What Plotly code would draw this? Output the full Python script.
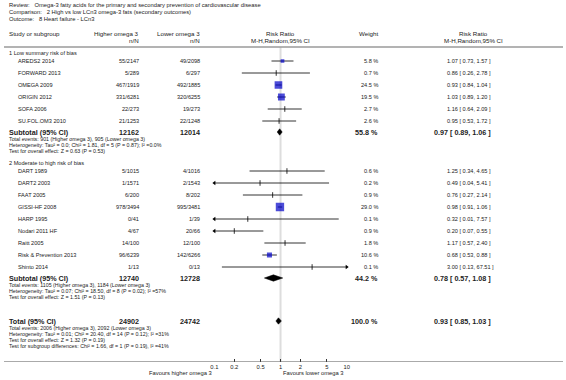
import plotly.graph_objects as go

W, H = 566, 380

review = "Review:   Omega-3 fatty acids for the primary and secondary prevention of cardiovascular disease"
comparison = "Comparison:   2 High vs low LCn3 omega-3 fats (secondary outcomes)"
outcome = "Outcome:   8 Heart failure - LCn3"

group_names = ["1 Low summary risk of bias", "2 Moderate to high risk of bias"]

g1_studies = ["AREDS2 2014", "FORWARD 2013", "OMEGA 2009", "ORIGIN 2012", "SOFA 2006", "SU.FOL.OM3 2010"]
g1_high = ["55/2147", "5/289", "467/1919", "331/6281", "22/273", "21/1253"]
g1_low = ["49/2098", "6/297", "492/1885", "320/6255", "19/273", "22/1248"]
g1_weight = [5.8, 0.7, 24.5, 19.5, 2.7, 2.6]
g1_rr = [1.07, 0.86, 0.93, 1.03, 1.16, 0.95]
g1_lo = [0.73, 0.26, 0.84, 0.89, 0.64, 0.53]
g1_hi = [1.57, 2.78, 1.04, 1.20, 2.09, 1.72]

g2_studies = ["DART 1989", "DART2 2003", "FAAT 2005", "GISSI-HF 2008", "HARP 1995",
              "Nodari 2011 HF", "Raitt 2005", "Risk & Prevention 2013", "Shinto 2014"]
g2_high = ["5/1015", "1/1571", "6/200", "978/3494", "0/41", "4/67", "14/100", "96/6239", "1/13"]
g2_low = ["4/1016", "2/1543", "8/202", "995/3481", "1/39", "20/66", "12/100", "142/6266", "0/13"]
g2_weight = [0.6, 0.2, 0.9, 29.0, 0.1, 0.9, 1.8, 10.6, 0.1]
g2_rr = [1.25, 0.49, 0.76, 0.98, 0.32, 0.20, 1.17, 0.68, 3.00]
g2_lo = [0.34, 0.04, 0.27, 0.91, 0.01, 0.07, 0.57, 0.53, 0.13]
g2_hi = [4.65, 5.41, 2.14, 1.06, 7.57, 0.55, 2.40, 0.88, 67.51]

sub_n_high = ["12162", "12740"]
sub_n_low = ["12014", "12728"]
sub_weight = [55.8, 44.2]
sub_rr = [0.97, 0.78]
sub_lo = [0.89, 0.57]
sub_hi = [1.06, 1.08]
sub_notes = [
    ["Total events: 901 (Higher omega 3), 905 (Lower omega 3)",
     "Heterogeneity: Tau\u00b2 = 0.0; Chi\u00b2 = 1.81, df = 5 (P = 0.87); I\u00b2 =0.0%",
     "Test for overall effect: Z = 0.63 (P = 0.53)"],
    ["Total events: 1105 (Higher omega 3), 1184 (Lower omega 3)",
     "Heterogeneity: Tau\u00b2 = 0.07; Chi\u00b2 = 18.50, df = 8 (P = 0.02); I\u00b2 =57%",
     "Test for overall effect: Z = 1.51 (P = 0.13)"],
]

tot_n_high = "24902"
tot_n_low = "24742"
tot_weight = 100.0
tot_rr, tot_lo, tot_hi = 0.93, 0.85, 1.03
tot_notes = [
    "Total events: 2006 (Higher omega 3), 2092 (Lower omega 3)",
    "Heterogeneity: Tau\u00b2 = 0.01; Chi\u00b2 = 20.40, df = 14 (P = 0.12); I\u00b2 =31%",
    "Test for overall effect: Z = 1.32 (P = 0.19)",
    "Test for subgroup differences: Chi\u00b2 = 1.66, df = 1 (P = 0.19), I\u00b2 =41%",
]

tick_vals = [0.1, 0.2, 0.5, 1, 2, 5, 10]
tick_text = ["0.1", "0.2", "0.5", "1", "2", "5", "10"]
x_min, x_max = 0.1, 10
favours_left = "Favours higher omega 3"
favours_right = "Favours lower omega 3"

# ---------------- layout constants (pixels) ----------------
FONT = "Liberation Sans, Arial, sans-serif"
TXT = "#222222"
X_LEFT = 5
X_STUDY = 14
X_HIGH = 137
X_LOW = 198
X_WEIGHT = 379
X_CI = 449
X_CI_B = 435
X_CI_C = 475
PLOT_L, PLOT_R = 213, 347
AXIS_Y = 362
FS = 5.6
FS_B = 7.2

annotations = []
shapes = []
traces = []


def txt(x, y, s, anchor="left", size=FS, bold=False, color=TXT):
    if bold:
        s = "<b>" + s + "</b>"
    annotations.append(dict(x=x / W, y=1 - y / H, xref="paper", yref="paper", text=s,
                            xanchor=anchor, yanchor="middle", showarrow=False,
                            font=dict(family=FONT, size=size, color=color),
                            borderpad=0, borderwidth=0))


def ci_str(rr, lo, hi):
    return "%.2f [ %.2f, %.2f ]" % (rr, lo, hi)


# title block
txt(X_LEFT, 5, review, size=5.8)
txt(X_LEFT, 12, comparison, size=5.8)
txt(X_LEFT, 19, outcome, size=5.8)

# headers
HY1, HY2 = 33, 40
txt(X_LEFT, HY1, "Study or subgroup", size=6.2)
txt(X_HIGH, HY1, "Higher omega 3", anchor="right", size=6.2)
txt(X_HIGH, HY2, "n/N", anchor="right", size=6.2)
txt(X_LOW, HY1, "Lower omega 3", anchor="right", size=6.2)
txt(X_LOW, HY2, "n/N", anchor="right", size=6.2)
txt(280, HY1, "Risk Ratio", anchor="center", size=6.2)
txt(280, HY2, "M-H,Random,95% CI", anchor="center", size=6.2)
txt(X_WEIGHT, HY1, "Weight", anchor="right", size=6.2)
txt(X_CI_C, HY1, "Risk Ratio", anchor="center", size=6.2)
txt(X_CI_C, HY2, "M-H,Random,95% CI", anchor="center", size=6.2)

shapes.append(dict(type="line", xref="paper", yref="y", x0=0, x1=1, y0=47, y1=47,
                   line=dict(color="#9a9a9a", width=1.5)))

STEP = 12
group_data = [
    (g1_studies, g1_high, g1_low, g1_weight, g1_rr, g1_lo, g1_hi),
    (g2_studies, g2_high, g2_low, g2_weight, g2_rr, g2_lo, g2_hi),
]
group_start = [53, 163]

sq_x, sq_y, sq_s = [], [], []
tk_x, tk_y = [], []
arr_l_x, arr_l_y, arr_r_x, arr_r_y = [], [], [], []


def diamond(rr, lo, hi, y, h=3.2):
    traces.append(go.Scatter(x=[lo, rr, hi, rr, lo], y=[y, y - h, y, y + h, y],
                             mode="lines", fill="toself", fillcolor="black",
                             line=dict(color="black", width=0.5), hoverinfo="skip",
                             showlegend=False))


for gi, (names, hi_n, lo_n, wts, rrs, los, his) in enumerate(group_data):
    y0 = group_start[gi]
    txt(X_LEFT, y0, group_names[gi])
    y = y0 + 8
    for i in range(len(names)):
        txt(X_STUDY, y, names[i])
        txt(X_HIGH, y, hi_n[i], anchor="right")
        txt(X_LOW, y, lo_n[i], anchor="right")
        txt(X_WEIGHT, y, "%.1f %%" % wts[i], anchor="right")
        txt(X_CI, y, ci_str(rrs[i], los[i], his[i]))
        traces.append(go.Scatter(x=[los[i], his[i]], y=[y, y], mode="lines",
                                 line=dict(color="black", width=0.8),
                                 hoverinfo="skip", showlegend=False))
        if wts[i] >= 4:
            sq_x.append(rrs[i]); sq_y.append(y); sq_s.append(1.55 * wts[i] ** 0.5)
        else:
            tk_x.append(rrs[i]); tk_y.append(y)
        if los[i] < x_min:
            arr_l_x.append(x_min); arr_l_y.append(y)
        if his[i] > x_max:
            arr_r_x.append(x_max); arr_r_y.append(y)
        y += STEP
    # subtotal
    ys = y - 1
    txt(X_LEFT, ys, "Subtotal (95% CI)", size=FS_B, bold=True)
    txt(X_HIGH, ys, sub_n_high[gi], anchor="right", size=FS_B, bold=True)
    txt(X_LOW, ys, sub_n_low[gi], anchor="right", size=FS_B, bold=True)
    txt(X_WEIGHT, ys, "%.1f %%" % sub_weight[gi], anchor="right", size=FS_B, bold=True)
    txt(X_CI_B, ys, ci_str(sub_rr[gi], sub_lo[gi], sub_hi[gi]), size=FS_B, bold=True)
    diamond(sub_rr[gi], sub_lo[gi], sub_hi[gi], ys)
    for k, line in enumerate(sub_notes[gi]):
        txt(X_LEFT, ys + 7 + 6 * k, line, size=5.3)

# total
YT = 321
txt(X_LEFT, YT, "Total (95% CI)", size=FS_B, bold=True)
txt(X_HIGH, YT, tot_n_high, anchor="right", size=FS_B, bold=True)
txt(X_LOW, YT, tot_n_low, anchor="right", size=FS_B, bold=True)
txt(X_WEIGHT, YT, "%.1f %%" % tot_weight, anchor="right", size=FS_B, bold=True)
txt(X_CI_B, YT, ci_str(tot_rr, tot_lo, tot_hi), size=FS_B, bold=True)
diamond(tot_rr, tot_lo, tot_hi, YT)
for k, line in enumerate(tot_notes):
    txt(X_LEFT, YT + 7 + 6 * k, line, size=5.3)

# markers
traces.append(go.Scatter(x=sq_x, y=sq_y, mode="markers",
                         marker=dict(symbol="square", size=sq_s, color="#0000c8",
                                     line=dict(width=0)),
                         hoverinfo="skip", showlegend=False))
traces.append(go.Scatter(x=tk_x, y=tk_y, mode="markers",
                         marker=dict(symbol="line-ns", size=4,
                                     line=dict(width=0.8, color="black")),
                         hoverinfo="skip", showlegend=False))
traces.append(go.Scatter(x=arr_l_x, y=arr_l_y, mode="markers", cliponaxis=False,
                         marker=dict(symbol="triangle-left", size=4, color="black"),
                         hoverinfo="skip", showlegend=False))
traces.append(go.Scatter(x=arr_r_x, y=arr_r_y, mode="markers", cliponaxis=False,
                         marker=dict(symbol="triangle-right", size=4, color="black"),
                         hoverinfo="skip", showlegend=False))

# null line
shapes.append(dict(type="line", xref="x", yref="y", x0=1, x1=1, y0=47, y1=AXIS_Y,
                   line=dict(color="#dddddd", width=2), layer="below"))
# axis line full width
shapes.append(dict(type="line", xref="paper", yref="y", x0=0, x1=1, y0=AXIS_Y, y1=AXIS_Y,
                   line=dict(color="#555555", width=1)))

txt(PLOT_L - 2, 373, favours_left, anchor="right", size=5.8)
txt(282, 373, favours_right, anchor="left", size=5.8)

fig = go.Figure(traces)
fig.update_layout(
    width=W, height=H, margin=dict(l=0, r=0, t=0, b=0),
    paper_bgcolor="white", plot_bgcolor="white",
    annotations=annotations, shapes=shapes, showlegend=False,
    xaxis=dict(type="log", range=[-1, 1], domain=[PLOT_L / W, PLOT_R / W],
               tickvals=tick_vals, ticktext=tick_text, ticks="inside", ticklen=3,
               tickcolor="#333333", tickwidth=0.8,
               tickfont=dict(family=FONT, size=5.8, color=TXT),
               showgrid=False, zeroline=False, showline=False, fixedrange=True),
    yaxis=dict(range=[AXIS_Y, 0], domain=[(H - AXIS_Y) / H, 1], visible=False,
               fixedrange=True),
)
fig.write_html("out.html", config={"displayModeBar": False},
               post_script="document.body.style.margin='0';document.body.style.overflow='hidden';")
